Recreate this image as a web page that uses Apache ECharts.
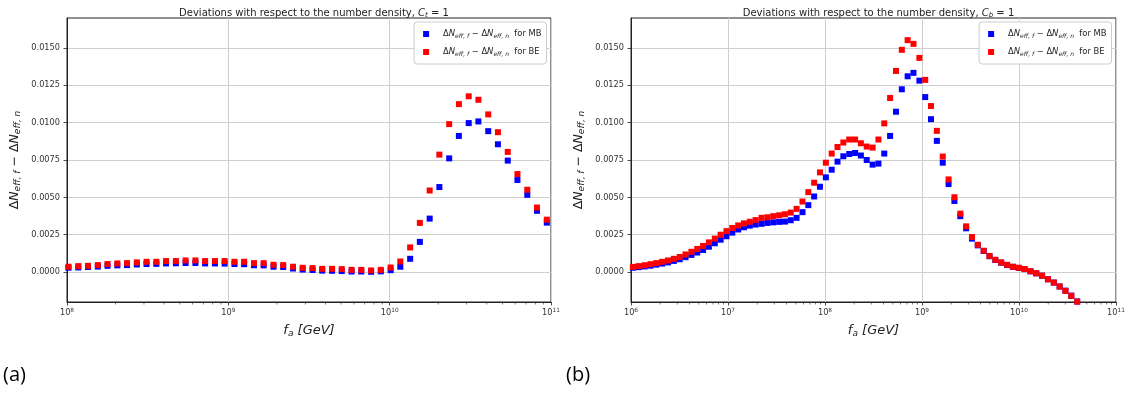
<!DOCTYPE html>
<html><head><meta charset="utf-8">
<script src="https://cdn.jsdelivr.net/npm/echarts@6/dist/echarts.min.js"></script>
<style>html,body{margin:0;padding:0;background:#fff}#c{width:1133px;height:394px}</style>
</head><body><div id="c"></div>
<script>
// ---------- data ----------
// log10(f_a / GeV) of each point, panel (a)
const leftLogFa = [8.009,8.070,8.130,8.191,8.251,8.312,8.372,8.433,8.493,8.554,8.614,8.675,8.735,8.796,8.856,8.917,8.977,
  9.038,9.098,9.159,9.219,9.280,9.340,9.401,9.461,9.522,9.582,9.643,9.703,9.764,9.824,9.885,9.945,
  10.006,10.066,10.127,10.187,10.248,10.308,10.369,10.429,10.490,10.550,10.611,10.671,10.732,10.792,10.853,10.913,10.974];
const leftMB = [0.00029,0.00031,0.00034,0.00037,0.00042,0.00045,0.00047,0.00051,0.00054,0.00055,0.00058,0.00059,0.00061,0.00061,0.00058,0.00058,0.00057,
  0.00054,0.00053,0.00046,0.00045,0.00036,0.00034,0.00024,0.00017,0.00014,0.00010,0.00009,0.00007,0.00004,0.00004,0.00002,0.00005,
  0.00013,0.00036,0.00089,0.00202,0.00358,0.00569,0.00761,0.00911,0.00997,0.01008,0.00943,0.00855,0.00746,0.00616,0.00517,0.00410,0.00331];
const leftBE = [0.00036,0.00040,0.00042,0.00047,0.00054,0.00058,0.00060,0.00065,0.00069,0.00069,0.00074,0.00074,0.00078,0.00078,0.00074,0.00074,0.00074,
  0.00069,0.00069,0.00060,0.00060,0.00049,0.00047,0.00036,0.00029,0.00027,0.00022,0.00022,0.00020,0.00015,0.00015,0.00011,0.00015,
  0.00031,0.00071,0.00165,0.00329,0.00546,0.00786,0.00990,0.01124,0.01176,0.01153,0.01055,0.00936,0.00804,0.00656,0.00551,0.00432,0.00351];

// log10(f_a / GeV) of each point, panel (b)
const rightLogFa = [6.020,6.080,6.141,6.201,6.261,6.321,6.382,6.442,6.502,6.562,6.623,6.683,6.743,6.803,6.864,6.924,6.984,
  7.044,7.105,7.165,7.225,7.285,7.346,7.406,7.466,7.527,7.587,7.647,7.707,7.768,7.828,7.888,7.948,
  8.009,8.069,8.129,8.189,8.250,8.310,8.370,8.430,8.491,8.551,8.611,8.671,8.732,8.792,8.852,8.912,8.973,
  9.033,9.093,9.153,9.214,9.274,9.334,9.395,9.455,9.515,9.575,9.636,9.696,9.756,9.816,9.877,9.937,9.997,
  10.057,10.118,10.178,10.238,10.298,10.359,10.419,10.479,10.539,10.600];
const rightMB = [0.00029,0.00033,0.00038,0.00043,0.00050,0.00057,0.00065,0.00075,0.00086,0.00100,0.00115,0.00131,0.00148,0.00170,0.00193,0.00217,0.00240,0.00264,0.00285,0.00300,0.00311,0.00318,
  0.00323,0.00329,0.00333,0.00336,0.00338,0.00347,0.00363,0.00401,0.00448,0.00506,0.00571,0.00634,0.00685,0.00739,0.00775,0.00790,0.00797,0.00780,0.00750,0.00719,0.00726,0.00793,0.00911,0.01073,0.01223,0.01310,0.01333,0.01281,0.01171,0.01023,0.00878,0.00732,0.00589,0.00476,0.00374,
  0.00293,0.00224,0.00179,0.00141,0.00106,0.00081,0.00063,0.00047,0.00035,0.00028,0.00020,0.00005,-0.00008,-0.00024,-0.00048,-0.00070,-0.00096,-0.00124,-0.00157,-0.00196];
const rightBE = [0.00035,0.00040,0.00046,0.00053,0.00060,0.00069,0.00078,0.00089,0.00101,0.00118,0.00136,0.00155,0.00175,0.00199,0.00224,0.00250,0.00274,0.00295,0.00312,0.00326,0.00337,0.00348,
  0.00363,0.00367,0.00374,0.00380,0.00387,0.00398,0.00423,0.00472,0.00535,0.00598,0.00667,0.00732,0.00793,0.00837,0.00867,0.00887,0.00887,0.00862,0.00840,0.00833,0.00887,0.00995,0.01165,0.01346,0.01487,0.01552,0.01527,0.01433,0.01286,0.01111,0.00945,0.00773,0.00620,0.00501,0.00391,
  0.00306,0.00235,0.00183,0.00143,0.00108,0.00083,0.00065,0.00049,0.00036,0.00029,0.00021,0.00006,-0.00008,-0.00024,-0.00048,-0.00070,-0.00097,-0.00126,-0.00160,-0.00198];

// axes
const yTickValues = [0, 0.0025, 0.005, 0.0075, 0.01, 0.0125, 0.015];
const yMin = -0.002, yMax = 0.017;
const leftDecades = [8, 9, 10, 11];
const rightDecades = [6, 7, 8, 9, 10, 11];
const minorMultipliers = [2, 3, 4, 5, 6, 7, 8, 9];
const titles = ['t', 'b'];
const seriesNames = ['MB', 'BE'];
const colors = {MB: '#0000ff', BE: '#ff0000'};

// ---------- styles ----------
const FONT = 'DejaVu Sans';
const TXT = '#222';
function richSet(size, subSize, subDrop) {
  return {
    n: {fontFamily: FONT, fontSize: size, fontWeight: 'normal', color: TXT},
    i: {fontFamily: FONT, fontSize: size, fontWeight: 'normal', fontStyle: 'italic', color: TXT},
    sub: {fontFamily: FONT, fontSize: subSize, fontWeight: 'normal', fontStyle: 'italic', color: TXT, padding: [subDrop, 0, 0, 0]},
    g: {width: 9}
  };
}
const mathDiff = '{n|Δ}{i|N}{sub|eff, f}{n| − Δ}{i|N}{sub|eff, n}';

const grids = [
  {left: 67, top: 18, width: 484, height: 284},
  {left: 631, top: 18, width: 485, height: 284}
];
const panels = [
  {logFa: leftLogFa, MB: leftMB, BE: leftBE, decades: leftDecades},
  {logFa: rightLogFa, MB: rightMB, BE: rightBE, decades: rightDecades}
];

const option = {
  animation: false,
  backgroundColor: '#fff',
  title: panels.map((p, k) => ({
    text: '{n|Deviations with respect to the number density, }{i|C}{sub|' + titles[k] + '}{n| = 1}',
    left: grids[k].left + grids[k].width / 2, textAlign: 'center', top: 2,
    textStyle: {fontWeight: 'normal', rich: richSet(10, 7, 5)}
  })),
  legend: panels.map((p, k) => ({
    data: seriesNames,
    orient: 'vertical', align: 'left',
    right: 1133 - (grids[k].left + grids[k].width) + 4.5, top: 22,
    icon: 'rect', itemWidth: 6, itemHeight: 6, itemGap: 6,
    padding: [6, 5, 6, 9],
    backgroundColor: '#fff', borderColor: '#cccccc', borderWidth: 1, borderRadius: 3,
    selectedMode: false,
    formatter: name => '{g| }' + mathDiff + '{n|  for ' + name + '}',
    textStyle: {rich: richSet(8.4, 6, 4)}
  })),
  grid: grids.map(g => Object.assign({show: true, borderColor: '#222', borderWidth: 1, backgroundColor: 'transparent'}, g)),
  xAxis: panels.map((p, k) => ({
    type: 'log', logBase: 10, gridIndex: k,
    min: Math.pow(10, p.decades[0]), max: Math.pow(10, p.decades[p.decades.length - 1]),
    axisLine: {show: true, onZero: false, lineStyle: {color: '#222', width: 1}},
    axisTick: {show: true, length: 3.5, lineStyle: {color: '#222', width: 0.8}},
    axisLabel: {
      margin: 5,
      formatter: v => '{b|10}{s|' + Math.round(Math.log10(v)) + '}',
      rich: {
        b: {fontFamily: FONT, fontSize: 8.2, color: '#333'},
        s: {fontFamily: FONT, fontSize: 5.8, color: '#333', padding: [0, 0, 6, 0]}
      }
    },
    splitLine: {show: true, lineStyle: {color: '#cfcfcf', width: 1}},
    name: '{i|f}{sub|a}{i| [GeV]}', nameLocation: 'middle', nameGap: 21,
    nameTextStyle: {rich: richSet(13, 9, 6)}
  })),
  yAxis: panels.map((p, k) => ({
    type: 'value', gridIndex: k, min: yMin, max: yMax,
    axisLine: {show: true, onZero: false, lineStyle: {color: '#222', width: 1}},
    axisTick: {show: true, length: 3.5, customValues: yTickValues, lineStyle: {color: '#222', width: 0.8}},
    axisLabel: {customValues: yTickValues, formatter: v => v.toFixed(4), fontFamily: FONT, fontSize: 8.2, color: '#333', margin: 7},
    splitLine: {show: true, lineStyle: {color: '#cfcfcf', width: 1}},
    name: mathDiff, nameLocation: 'middle', nameRotate: 90, nameGap: 45,
    nameTextStyle: {rich: richSet(12.5, 9, 6)}
  })),
  series: [],
  graphic: [
    {type: 'text', left: 3, top: 365, style: {text: '(a)', font: '20px "Open Sans"', fill: '#000'}},
    {type: 'text', left: 566, top: 365, style: {text: '(b)', font: '20px "Open Sans"', fill: '#000'}}
  ]
};

panels.forEach((p, k) => {
  seriesNames.forEach(nm => {
    option.series.push({
      type: 'scatter', name: nm, xAxisIndex: k, yAxisIndex: k,
      symbol: 'rect', symbolSize: 6,
      itemStyle: {color: colors[nm], opacity: 1},
      data: p.logFa.map((e, i) => [Math.pow(10, e), p[nm][i]]),
      clip: true, z: 3
    });
  });
  // minor log ticks (2..9 x 10^n) on the x axis
  const minor = [];
  for (let d = 0; d < p.decades.length - 1; d++) {
    minorMultipliers.forEach(m => minor.push([m * Math.pow(10, p.decades[d]), yMin]));
  }
  option.series.push({
    type: 'scatter', name: 'minorTicks' + k, xAxisIndex: k, yAxisIndex: k,
    symbol: 'rect', symbolSize: [0.8, 2], symbolOffset: [0, 1.6],
    itemStyle: {color: '#333'}, silent: true, clip: false, z: 6,
    data: minor, tooltip: {show: false}
  });
});

const chart = echarts.init(document.getElementById('c'), null, {renderer: 'canvas'});
chart.setOption(option);
</script>
</body></html>
